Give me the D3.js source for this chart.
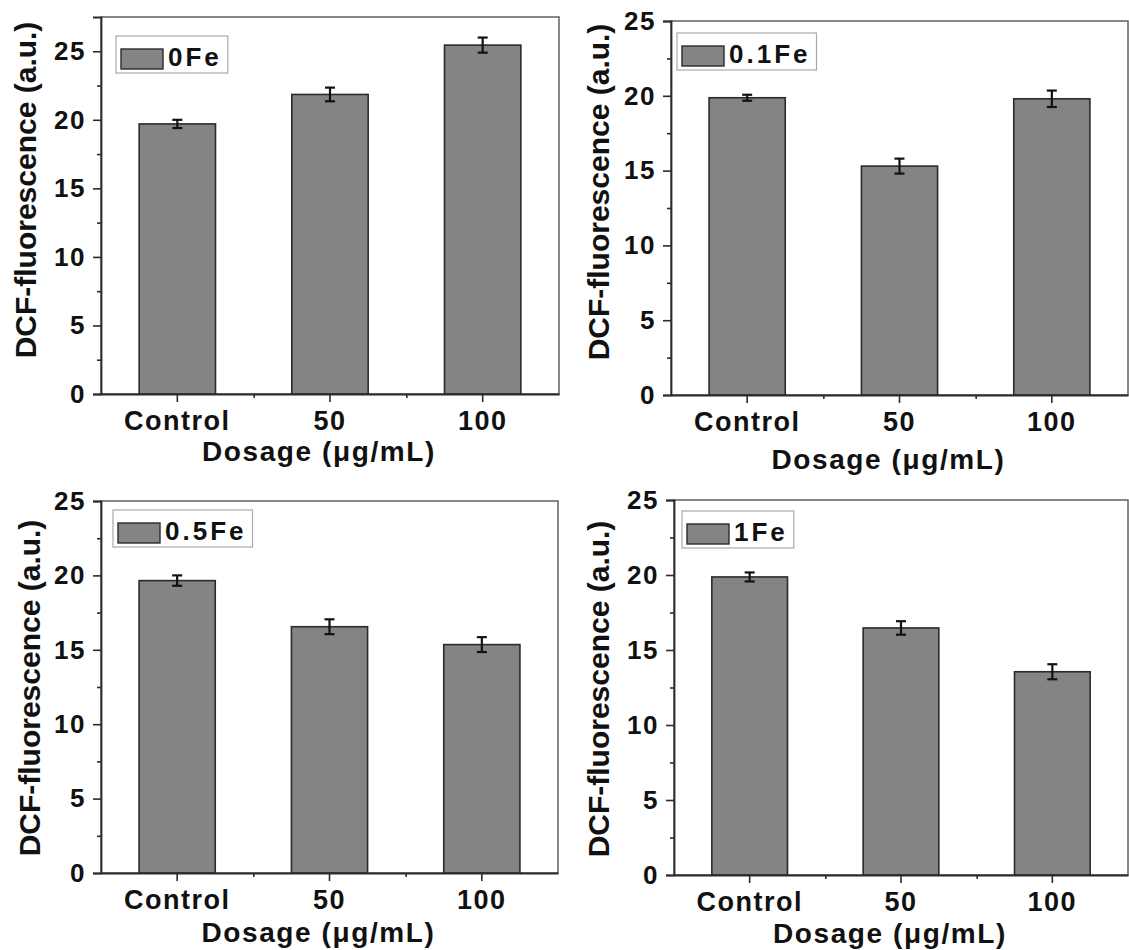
<!DOCTYPE html>
<html>
<head>
<meta charset="utf-8">
<script src="https://cdn.jsdelivr.net/npm/d3@7"></script>
<style>
  body { margin: 0; background: #fff; }
  text { font-family: "Liberation Sans", Arial, sans-serif; font-weight: bold; fill: #111; }
</style>
</head>
<body>
<svg id="chart" width="1129" height="950"></svg>
<script>
// data
const categories = ["Control", "50", "100"];
const seriesNames = ["0Fe", "0.1Fe", "0.5Fe", "1Fe"];
const values0Fe = [19.7, 21.85, 25.45];
const errors0Fe = [0.3, 0.5, 0.55];
const values01Fe = [19.87, 15.3, 19.8];
const errors01Fe = [0.2, 0.5, 0.55];
const values05Fe = [19.65, 16.55, 15.35];
const errors05Fe = [0.35, 0.5, 0.5];
const values1Fe = [19.87, 16.47, 13.55];
const errors1Fe = [0.3, 0.45, 0.5];
const yMax = [27.5, 25, 25, 25];
const yTicks = [0, 5, 10, 15, 20, 25];
const yMinorTicks = [2.5, 7.5, 12.5, 17.5, 22.5];
const yTitle = "DCF-fluorescence (a.u.)";
const xTitle = "Dosage (\u03bcg/mL)";

const allValues = [values0Fe, values01Fe, values05Fe, values1Fe];
const allErrors = [errors0Fe, errors01Fe, errors05Fe, errors1Fe];

// where each panel sits on the page
const panels = [
  {left: 101, right: 559, top: 17, bottom: 394, legX: 116, legY: 36, yTitleX: 36, yTitleY: 190, xTitleY: 461},
  {left: 671, right: 1128, top: 21, bottom: 395, legX: 677, legY: 33, yTitleX: 609, yTitleY: 192, xTitleY: 469},
  {left: 101, right: 558, top: 501, bottom: 873, legX: 113, legY: 510, yTitleX: 40, yTitleY: 688, xTitleY: 942},
  {left: 674, right: 1128, top: 500, bottom: 875, legX: 682, legY: 511, yTitleX: 609, yTitleY: 689, xTitleY: 943}
];

const barFill = "#848484";
const dark = "#2b2b2b";

const svg = d3.select("#chart");

panels.forEach((p, k) => {
  const g = svg.append("g");
  const vals = allValues[k];
  const errs = allErrors[k];

  const x = d3.scaleBand()
    .domain(categories)
    .range([p.left, p.right])
    .paddingInner(0.5)
    .paddingOuter(0.25);
  const xMinor = d3.scaleLinear().domain([0, 3]).range([p.left, p.right]);
  const y = d3.scaleLinear().domain([0, yMax[k]]).range([p.bottom, p.top]);

  // frame (top + right)
  g.append("rect")
    .attr("x", p.left).attr("y", p.top)
    .attr("width", p.right - p.left).attr("height", p.bottom - p.top)
    .attr("fill", "none").attr("stroke", "#555").attr("stroke-width", 1.4);

  // bars
  g.selectAll("rect.bar")
    .data(vals)
    .join("rect")
    .attr("class", "bar")
    .attr("x", (d, i) => x(categories[i]))
    .attr("width", x.bandwidth())
    .attr("y", d => y(d))
    .attr("height", d => y(0) - y(d))
    .attr("fill", barFill)
    .attr("stroke", dark)
    .attr("stroke-width", 1.6);

  // error bars
  const eb = g.selectAll("g.err")
    .data(vals)
    .join("g")
    .attr("class", "err")
    .attr("stroke", "#111")
    .attr("stroke-width", 2.2);
  eb.append("line")
    .attr("x1", (d, i) => x(categories[i]) + x.bandwidth() / 2)
    .attr("x2", (d, i) => x(categories[i]) + x.bandwidth() / 2)
    .attr("y1", (d, i) => y(d - errs[i]))
    .attr("y2", (d, i) => y(d + errs[i]));
  [-1, 1].forEach(s => {
    eb.append("line")
      .attr("x1", (d, i) => x(categories[i]) + x.bandwidth() / 2 - 5)
      .attr("x2", (d, i) => x(categories[i]) + x.bandwidth() / 2 + 5)
      .attr("y1", (d, i) => y(d + s * errs[i]))
      .attr("y2", (d, i) => y(d + s * errs[i]));
  });

  // y axis
  const yAx = g.append("g")
    .attr("transform", `translate(${p.left},0)`)
    .call(d3.axisLeft(y).tickValues(yTicks).tickSize(8).tickPadding(7).tickFormat(d3.format("d")));
  g.append("g")
    .attr("transform", `translate(${p.left},0)`)
    .call(d3.axisLeft(y).tickValues(yMinorTicks).tickSize(4).tickFormat(""))
    .call(a => a.select(".domain").remove());

  // x axis
  const xAx = g.append("g")
    .attr("transform", `translate(0,${p.bottom})`)
    .call(d3.axisBottom(x).tickSize(8).tickSizeOuter(0));
  g.append("g")
    .attr("transform", `translate(0,${p.bottom})`)
    .call(d3.axisBottom(xMinor).tickValues([1, 2]).tickSize(4).tickFormat(""))
    .call(a => a.select(".domain").remove());

  g.selectAll(".tick line").attr("stroke", dark).attr("stroke-width", 1.6);
  g.selectAll(".domain").attr("stroke", dark).attr("stroke-width", 1.8);

  yAx.selectAll("text")
    .attr("font-size", 26)
    .style("letter-spacing", "1.5px")
    .attr("fill", "#111");
  xAx.selectAll("text")
    .attr("font-size", 27)
    .style("letter-spacing", "1.5px")
    .attr("dy", null)
    .attr("y", 36)
    .attr("fill", "#111");

  // axis titles
  g.append("text")
    .attr("transform", `translate(${p.yTitleX},${p.yTitleY}) rotate(-90)`)
    .attr("text-anchor", "middle")
    .attr("font-size", 30)
    .text(yTitle);
  g.append("text")
    .attr("x", (p.left + p.right) / 2 - 11)
    .attr("y", p.xTitleY)
    .attr("text-anchor", "middle")
    .attr("font-size", 28)
    .style("letter-spacing", "1.6px")
    .text(xTitle);

  // legend
  const leg = g.append("g").attr("transform", `translate(${p.legX},${p.legY})`);
  const box = leg.append("rect")
    .attr("height", 37)
    .attr("fill", "#fff")
    .attr("stroke", "#aaa")
    .attr("stroke-width", 1.2);
  leg.append("rect")
    .attr("x", 5).attr("y", 13)
    .attr("width", 42).attr("height", 20)
    .attr("fill", barFill)
    .attr("stroke", dark)
    .attr("stroke-width", 1.4);
  const lt = leg.append("text")
    .attr("x", 52).attr("y", 30)
    .attr("font-size", 26)
    .style("letter-spacing", "3px")
    .text(seriesNames[k]);
  box.attr("width", 52 + lt.node().getComputedTextLength() + 6);
});
</script>
</body>
</html>
